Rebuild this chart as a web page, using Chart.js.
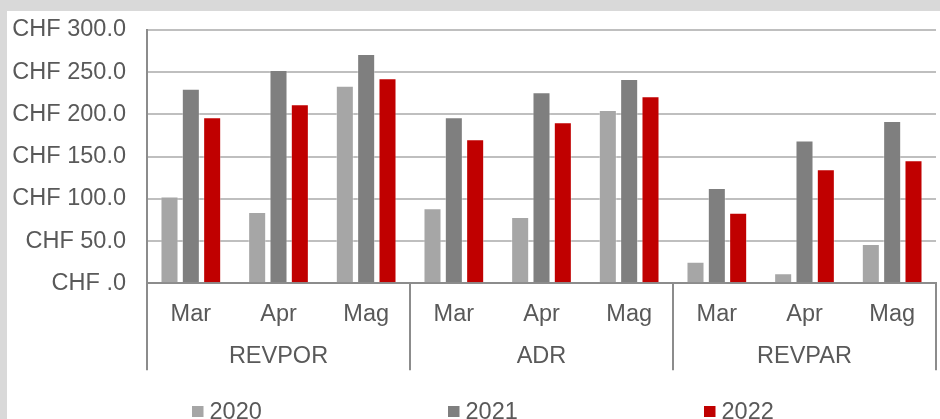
<!DOCTYPE html>
<html><head><meta charset="utf-8">
<script src="https://cdn.jsdelivr.net/npm/chart.js@4/dist/chart.umd.min.js"></script>
<style>
html,body{margin:0;padding:0;background:#d9d9d9;width:940px;height:419px;overflow:hidden}
#wrap{position:absolute;left:7px;top:11px;width:933px;height:408px;background:#fff}
canvas{display:block}
</style></head><body>
<div id="wrap"><canvas id="c" width="933" height="408"></canvas></div>
<script>
const groups = ['REVPOR', 'ADR', 'REVPAR'];
const months = ['Mar', 'Apr', 'Mag'];
const seriesNames = ['2020', '2021', '2022'];
const values2020 = [102.8, 84.3, 234.0, 89.0, 78.4, 205.2, 25.5, 11.8, 46.5];
const values2021 = [230.5, 252.6, 271.5, 196.6, 226.2, 241.9, 113.0, 169.0, 192.2];
const values2022 = [196.6, 212.0, 242.8, 170.5, 190.7, 221.5, 83.5, 135.0, 145.7];
const yMin = 0, yMax = 300, yStep = 50;

const categoryLabels = groups.flatMap(() => months);
const FONT = '"Liberation Sans", Arial, sans-serif';
const TXT = '#595959';
const FS = 23.5;

const separators = {
  id: 'separators',
  afterDraw(chart) {
    const {ctx, chartArea} = chart;
    const xs = chart.scales.x;
    const n = categoryLabels.length;
    const per = months.length;
    const pts = [];
    for (let i = 0; i <= n; i += per) {
      if (i === 0) pts.push(chartArea.left);
      else if (i === n) pts.push(chartArea.right);
      else pts.push((xs.getPixelForValue(i - 1) + xs.getPixelForValue(i)) / 2);
    }
    const yBottom = chart.scales.x2.top + 37;
    ctx.save();
    ctx.strokeStyle = '#8c8c8c';
    ctx.lineWidth = 2;
    pts.forEach(x => {
      ctx.beginPath();
      ctx.moveTo(x, chartArea.bottom);
      ctx.lineTo(x, yBottom);
      ctx.stroke();
    });
    ctx.restore();
  }
};

const customLegend = {
  id: 'customLegend',
  afterDraw(chart) {
    const {ctx} = chart;
    ctx.save();
    ctx.font = FS + 'px ' + FONT;
    ctx.textBaseline = 'alphabetic';
    chart.data.datasets.forEach((ds, i) => {
      const bx = 185 + i * 256;
      ctx.fillStyle = ds.backgroundColor;
      ctx.fillRect(bx, 395, 11.5, 11);
      ctx.fillStyle = TXT;
      ctx.fillText(ds.label, bx + 17.5, 408);
    });
    ctx.restore();
  }
};

new Chart(document.getElementById('c'), {
  type: 'bar',
  data: {
    labels: categoryLabels,
    datasets: [
      {label: seriesNames[0], data: values2020, backgroundColor: '#a6a6a6'},
      {label: seriesNames[1], data: values2021, backgroundColor: '#7f7f7f'},
      {label: seriesNames[2], data: values2022, backgroundColor: '#c00000'}
    ].map(d => Object.assign(d, {
      borderColor: 'rgba(255,255,255,0.35)', borderWidth: 1,
      categoryPercentage: 0.73, barPercentage: 0.845
    }))
  },
  options: {
    responsive: false,
    devicePixelRatio: 1,
    animation: false,
    layout: {padding: {top: 19, right: 4, bottom: 36, left: 0}},
    plugins: {legend: {display: false}, tooltip: {enabled: false}},
    scales: {
      x: {
        type: 'category',
        grid: {display: false},
        border: {display: true, color: '#8c8c8c', width: 2},
        ticks: {color: TXT, font: {family: FONT, size: FS}, padding: 9, maxRotation: 0, autoSkip: false},
        afterFit: s => { s.height = 50; }
      },
      x2: {
        type: 'category',
        labels: groups,
        position: 'bottom',
        offset: true,
        grid: {display: false},
        border: {display: false},
        ticks: {color: TXT, font: {family: FONT, size: FS}, padding: 1, maxRotation: 0},
        afterFit: s => { s.height = 49.7; }
      },
      y: {
        min: yMin, max: yMax,
        grid: {color: '#bfbfbf', lineWidth: 2, drawTicks: true, tickLength: 21, tickColor: 'rgba(0,0,0,0)'},
        border: {display: true, color: '#8c8c8c', width: 2},
        ticks: {
          stepSize: yStep, color: TXT, font: {family: FONT, size: FS}, padding: 0,
          callback: v => 'CHF ' + (v === 0 ? '.0' : v.toFixed(1))
        },
        afterFit: s => { s.width = 140; }
      }
    }
  },
  plugins: [separators, customLegend]
});
</script>
</body></html>
